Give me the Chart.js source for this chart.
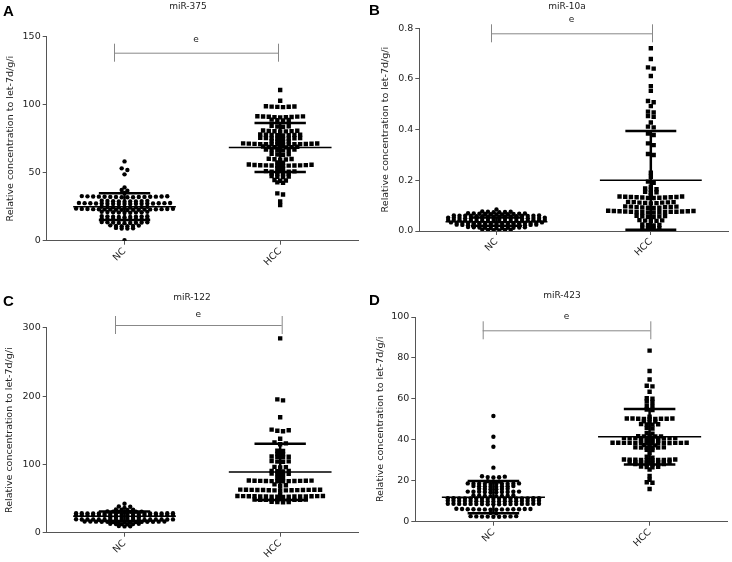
<!doctype html>
<html lang="en">
<head>
<meta charset="utf-8">
<title>Serum miRNA levels, NC vs HCC</title>
<style>
  * { margin: 0; padding: 0; }
  body { background: #fff; }
  .grid { position: relative; width: 732px; height: 562px; }
  .grid canvas { position: absolute; }
</style>
</head>
<body>
<div class="grid">
  <canvas id="chartA" width="366" height="281" style="left:0;top:0"></canvas>
  <canvas id="chartB" width="366" height="281" style="left:366px;top:0"></canvas>
  <canvas id="chartC" width="366" height="281" style="left:0;top:281px"></canvas>
  <canvas id="chartD" width="366" height="281" style="left:366px;top:281px"></canvas>
</div>
<script src="https://cdn.jsdelivr.net/npm/chart.js@4.4.0/dist/chart.umd.min.js"></script>
<script>
// categories and labels
const groups = ['NC', 'HCC'];
const titles = ['miR-375', 'miR-10a', 'miR-122', 'miR-423'];
const letters = ['A', 'B', 'C', 'D'];
const yMax = [150, 0.8, 300, 100];
const yStep = [50, 0.2, 100, 20];

// mean and SD (NC, HCC)
const meanNC = [25, 0.037, 24, 12];
const sdNC = [9.8, 0.016, 7, 7.9];
const meanHCC = [68.5, 0.2, 89, 41.5];
const sdHCC = [18, 0.195, 41, 13.5];

// miR-375
const ncA = [
  0.3,
  8.9, 9.0, 9.2, 9.4,
  10.6, 10.7, 10.8, 10.9, 11.1, 11.3,
  12.9, 13.0, 13.1, 13.2, 13.3, 13.4, 13.5, 13.6, 13.8,
  15.4, 15.5, 15.6, 15.7, 15.8, 15.9, 16.0, 16.1, 16.2,
  17.3, 17.4, 17.5, 17.6, 17.7, 17.8, 17.9, 18.0, 18.1,
  20.5, 20.6, 20.7, 20.8, 20.9, 21.0, 21.1, 21.2, 21.3,
  22.6, 22.7, 22.7, 22.8, 22.8, 22.9, 22.9, 23.0, 23.0, 23.1, 23.1, 23.2, 23.2, 23.3, 23.3, 23.4, 23.5, 23.6,
  24.3, 24.4, 24.5, 24.5, 24.6, 24.7, 24.8, 24.9, 25.0,
  26.9, 27.0, 27.0, 27.1, 27.1, 27.2, 27.2, 27.3, 27.3, 27.4, 27.4, 27.5, 27.5, 27.6, 27.6, 27.7, 27.8,
  28.7, 28.8, 28.9, 28.9, 29.0, 29.1, 29.2, 29.3, 29.4,
  31.9, 32.0, 32.0, 32.1, 32.1, 32.2, 32.2, 32.3, 32.3, 32.4, 32.4, 32.5, 32.5, 32.6, 32.7, 32.8,
  35.1, 36.8, 37.3, 39.2,
  48.8, 52.0, 53.2, 58.3
];
const hccA = [
  26.2, 28.9, 34.0, 34.8,
  42.5, 42.9,
  44.1, 44.3, 44.6,
  46.8, 47.0, 47.2, 47.5,
  48.9, 49.0, 49.2, 49.4,
  50.5, 50.6, 50.7, 50.8, 51.0, 51.2,
  53.0, 53.3,
  55.0, 55.1, 55.2, 55.3, 55.3, 55.4, 55.4, 55.5, 55.6, 55.7, 55.8, 56.0,
  57.3, 57.6,
  59.5, 59.7, 59.9, 60.1, 60.3,
  63.2, 63.4, 63.6, 63.9,
  66.4, 66.5, 66.7, 66.8, 67.0, 67.1,
  68.5, 68.6, 68.7, 68.8, 68.9, 69.1, 69.3,
  70.6, 70.7, 70.8, 70.8, 70.9, 70.9, 71.0, 71.0, 71.1, 71.2, 71.3, 71.4, 71.5, 71.6,
  72.6, 72.8, 73.0, 73.2,
  74.9, 75.0, 75.1, 75.2, 75.3, 75.4, 75.5, 75.7,
  77.4, 77.5, 77.6, 77.7, 77.8, 77.9, 78.0, 78.2,
  80.3, 80.4, 80.5, 80.6, 80.7, 80.8, 81.0,
  83.8, 84.0, 84.2, 84.4,
  88.5, 88.6, 88.8, 89.0,
  90.7, 90.8, 90.9, 91.0, 91.1, 91.2, 91.3, 91.4, 91.5,
  98.2, 98.4, 98.5, 98.6, 98.7, 98.9,
  102.9, 110.8
];

// miR-10a
const ncB = [
  0.002, 0.003, 0.004, 0.004, 0.005, 0.006,
  0.011, 0.012, 0.012, 0.013, 0.013, 0.013, 0.014, 0.014, 0.015, 0.015, 0.016,
  0.020, 0.020, 0.021, 0.021, 0.021, 0.022, 0.022, 0.022, 0.023, 0.023, 0.023, 0.024, 0.024, 0.025, 0.025,
  0.029, 0.029, 0.030, 0.030, 0.030, 0.031, 0.031, 0.031, 0.031, 0.032, 0.032, 0.032, 0.033, 0.033, 0.033, 0.034, 0.034,
  0.038, 0.038, 0.039, 0.039, 0.039, 0.040, 0.040, 0.040, 0.040, 0.041, 0.041, 0.041, 0.042, 0.042, 0.042, 0.043, 0.043, 0.043,
  0.047, 0.047, 0.048, 0.048, 0.048, 0.049, 0.049, 0.049, 0.049, 0.050, 0.050, 0.050, 0.051, 0.051, 0.051, 0.052, 0.052, 0.052,
  0.056, 0.056, 0.057, 0.057, 0.057, 0.058, 0.058, 0.058, 0.059, 0.059, 0.059, 0.060, 0.060, 0.060, 0.061, 0.061,
  0.065, 0.065, 0.066, 0.066, 0.067, 0.067, 0.068, 0.068, 0.069, 0.069, 0.070,
  0.074, 0.074, 0.075, 0.076, 0.076, 0.077,
  0.085
];
const hccB = [
  0.000,
  0.009, 0.010, 0.011, 0.013,
  0.022, 0.023, 0.024, 0.026,
  0.039, 0.040, 0.041, 0.042, 0.043,
  0.055, 0.056, 0.057, 0.058, 0.059, 0.060,
  0.073, 0.073, 0.074, 0.074, 0.075, 0.075, 0.076, 0.076, 0.076, 0.077, 0.077, 0.078, 0.078, 0.079, 0.079, 0.080,
  0.091, 0.092, 0.092, 0.093, 0.094, 0.094, 0.095, 0.096, 0.096, 0.097,
  0.109, 0.110, 0.111, 0.112, 0.112, 0.113, 0.114, 0.114, 0.115,
  0.130, 0.130, 0.131, 0.132, 0.132, 0.133, 0.133, 0.134, 0.134, 0.135, 0.136, 0.136,
  0.142,
  0.151, 0.153, 0.155,
  0.163, 0.165, 0.168,
  0.175, 0.190, 0.195, 0.214, 0.230,
  0.300, 0.304, 0.339, 0.346, 0.379, 0.385, 0.409, 0.412, 0.428, 0.451, 0.454, 0.468, 0.471,
  0.493, 0.508, 0.513, 0.553, 0.572, 0.612, 0.641, 0.646, 0.679, 0.721
];

// miR-122
const ncC = [
  9.2, 9.5, 9.9,
  12.3, 12.5, 12.6, 12.8, 13.0, 13.2,
  15.3, 15.4, 15.5, 15.6, 15.7, 15.8, 15.9, 16.0, 16.0, 16.1, 16.2, 16.2, 16.3, 16.4, 16.5,
  18.4, 18.5, 18.5, 18.6, 18.7, 18.8, 18.8, 18.9, 19.0, 19.0, 19.1, 19.2, 19.2, 19.3, 19.4, 19.4, 19.5, 19.6,
  21.4, 21.5, 21.6, 21.7, 21.8, 22.0,
  24.4, 24.5, 24.5, 24.6, 24.7, 24.8, 24.8, 24.9, 25.0, 25.0, 25.1, 25.2, 25.2, 25.3, 25.4, 25.4, 25.5, 25.6,
  27.4, 27.5, 27.5, 27.6, 27.7, 27.8, 27.8, 27.9, 28.0, 28.0, 28.1, 28.2, 28.2, 28.3, 28.4, 28.4, 28.5, 28.6,
  30.4, 30.5, 30.6, 30.7, 30.8, 30.9, 31.0,
  33.4, 33.6, 33.8, 34.0,
  36.4, 38.0, 38.4,
  42.4
];
const hccC = [
  44.6, 44.8, 45.0, 45.2,
  47.6, 47.7, 47.8, 47.9, 48.0, 48.1, 48.2, 48.3, 48.4, 48.5,
  52.5, 52.6, 52.7, 52.8, 52.9, 53.0, 53.0, 53.1, 53.2, 53.3, 53.4, 53.4, 53.5, 53.6, 53.7, 53.8,
  56.0,
  61.8, 61.9, 62.0, 62.1, 62.2, 62.3, 62.4, 62.4, 62.5, 62.6, 62.7, 62.8, 62.9, 62.9, 63.0,
  68.4, 69.5, 70.8,
  75.2, 75.3, 75.4, 75.5, 75.6, 75.7, 75.8, 75.9, 76.0, 76.1, 76.2, 76.3,
  79.6, 80.4,
  85.8, 86.0, 86.3, 86.6,
  89.6, 89.9, 90.2, 90.5,
  95.6, 96.0, 96.4,
  103.6, 104.0, 104.4, 104.8,
  110.4, 110.8, 111.2, 111.6,
  114.6, 115.2,
  119.5, 120.0,
  129.5, 130.8, 132.0,
  137.5,
  148.5, 149.2, 149.9, 150.8,
  169.0, 193.7, 195.1, 284.4
];

// miR-423
const ncD = [
  2.4, 2.4, 2.5, 2.5, 2.5, 2.6, 2.6, 2.7, 2.7,
  4.1, 4.3,
  5.9, 5.9, 6.0, 6.0, 6.0, 6.0, 6.1, 6.1, 6.1, 6.1, 6.2, 6.2, 6.2, 6.3,
  8.5, 8.5, 8.5, 8.6, 8.6, 8.6, 8.6, 8.6, 8.7, 8.7, 8.7, 8.7, 8.7, 8.8, 8.8, 8.8, 8.8,
  9.9, 9.9, 9.9, 10.0, 10.0, 10.0, 10.0, 10.0, 10.1, 10.1, 10.1, 10.1, 10.1, 10.2, 10.2, 10.2, 10.2,
  11.2, 11.2, 11.2, 11.3, 11.3, 11.3, 11.3, 11.3, 11.4, 11.4, 11.4, 11.4, 11.4, 11.5, 11.5, 11.5, 11.5,
  12.5, 12.5, 12.6, 12.6, 12.7, 12.7, 12.8, 12.8,
  14.4, 14.4, 14.5, 14.5, 14.5, 14.6, 14.6, 14.6, 14.7, 14.7,
  15.9, 15.9, 16.0, 16.0, 16.1, 16.1,
  17.1, 17.1, 17.2, 17.2, 17.3, 17.3, 17.4, 17.4,
  18.4, 18.4, 18.5, 18.5, 18.5, 18.6, 18.6, 18.6, 18.7, 18.7,
  19.5, 19.6, 19.8,
  21.6, 21.7, 21.8, 22.0, 22.2,
  26.4, 36.6, 41.5, 51.6
];
const hccD = [
  16.0, 19.0, 19.3, 20.5, 22.3, 25.5,
  26.6, 26.7, 26.8, 26.9,
  27.9, 28.0, 28.0, 28.1, 28.1, 28.2,
  29.0, 29.0, 29.1, 29.1, 29.2, 29.2, 29.3, 29.3,
  30.1, 30.1, 30.2, 30.2, 30.2, 30.3, 30.3, 30.3, 30.4, 30.4,
  31.3, 31.7,
  33.5,
  35.0, 35.1,
  36.1, 36.1, 36.2, 36.2, 36.3, 36.3,
  37.2, 37.3, 37.4,
  38.3, 38.3, 38.3, 38.4, 38.4, 38.4, 38.4, 38.5, 38.5, 38.5, 38.5, 38.6, 38.6, 38.6,
  39.4, 39.4, 39.5, 39.5,
  40.5, 40.5, 40.6, 40.6, 40.6, 40.7, 40.7, 40.7, 40.8, 40.8,
  41.6, 41.6, 41.7, 41.7, 41.8,
  43.0, 43.2,
  45.5, 45.7,
  47.4, 47.5, 47.6, 47.7,
  48.8, 48.9, 49.0,
  50.2, 50.2, 50.2, 50.3, 50.3, 50.3, 50.4, 50.4, 50.4,
  51.3,
  54.6, 54.8, 56.4, 56.6, 58.5, 58.7, 60.1, 60.3,
  63.5, 66.1, 66.4, 69.5, 73.6, 83.6
];

const ncSets = [ncA, ncB, ncC, ncD];
const hccSets = [hccA, hccB, hccC, hccD];

// layout of each panel inside its 366x281 canvas (pixels)
const frames = [
  { area: [46.7, 358, 36.7, 240.7], head: [188, 6.5], tag: 4, bracket: [114, 278, 52.7], eY: 40, yTitleX: 11 },
  { area: [53.3, 362.7, 28.3, 231], head: [201, 6.7], tag: 3, bracket: [125, 286, 33.3], eY: 20, yTitleX: 20 },
  { area: [46.7, 358, 46.7, 251.7], head: [192, 16.7], tag: 13, bracket: [115, 281.7, 44], eY: 33.3, yTitleX: 10 },
  { area: [49.3, 361.7, 36, 240.7], head: [196, 15], tag: 12, bracket: [116.7, 284.3, 49.3], eY: 36, yTitleX: 15 }
];

const DOT_GAP = 5.7;   // horizontal spacing of markers, px
const ROW_GAP = 2;     // values closer than this (px) share a row
const FONT = '"DejaVu Sans", sans-serif';

Chart.defaults.font.family = FONT;
Chart.defaults.font.size = 9;
Chart.defaults.color = '#222';

// Prism-style scatter: close values share a row, rows are centred,
// lowest value of a row in the middle and the rest alternating outwards
function swarm(values, centre, chart) {
  const { x, y } = chart.scales;
  const unitX = (x.max - x.min) / x.width;
  const rows = [];
  values.slice().sort((a, b) => a - b).forEach(v => {
    const row = rows[rows.length - 1];
    if (row && y.getPixelForValue(row[0]) - y.getPixelForValue(v) < ROW_GAP - 1e-6) row.push(v);
    else rows.push([v]);
  });
  const pts = [];
  rows.forEach(row => {
    const n = row.length;
    const slots = row.map((_, j) => j - (n - 1) / 2)
      .sort((a, b) => Math.abs(a) - Math.abs(b) || b - a);
    row.forEach((v, j) => pts.push({ x: centre + slots[j] * DOT_GAP * unitX, y: v }));
  });
  return pts;
}

function meanLines(i) {
  const out = [];
  [[1, meanNC[i]], [2, meanHCC[i]]].forEach(([c, m]) => {
    out.push({ x: c - 0.33, y: m }, { x: c + 0.33, y: m }, { x: c, y: null });
  });
  return out;
}

function sdLines(i) {
  const out = [];
  [[1, meanNC[i], sdNC[i]], [2, meanHCC[i], sdHCC[i]]].forEach(([c, m, s]) => {
    out.push({ x: c - 0.165, y: m + s }, { x: c + 0.165, y: m + s }, { x: c, y: null });
    out.push({ x: c - 0.165, y: m - s }, { x: c + 0.165, y: m - s }, { x: c, y: null });
    out.push({ x: c, y: m - s }, { x: c, y: m + s }, { x: c, y: null });
  });
  return out;
}

// panel letter, title, y title and significance bracket
function decorations(i) {
  const f = frames[i];
  return {
    id: 'decorations' + i,
    afterDraw(chart) {
      const { ctx, chartArea: { top, bottom } } = chart;
      ctx.save();
      ctx.fillStyle = '#000';
      ctx.font = 'bold 15px "Liberation Sans", sans-serif';
      ctx.textAlign = 'left';
      ctx.textBaseline = 'top';
      ctx.fillText(letters[i], 3, f.tag);

      ctx.fillStyle = '#222';
      ctx.font = '9px ' + FONT;
      ctx.textAlign = 'center';
      ctx.textBaseline = 'middle';
      ctx.fillText(titles[i], f.head[0], f.head[1]);

      const [x1, x2, by] = f.bracket;
      ctx.fillText('e', (x1 + x2) / 2, f.eY);
      ctx.strokeStyle = '#888';
      ctx.lineWidth = 1;
      ctx.beginPath();
      ctx.moveTo(x1, by + 0.5);
      ctx.lineTo(x2, by + 0.5);
      ctx.moveTo(x1 + 0.5, by - 9);
      ctx.lineTo(x1 + 0.5, by + 9);
      ctx.moveTo(x2 + 0.5, by - 9);
      ctx.lineTo(x2 + 0.5, by + 9);
      ctx.stroke();

      ctx.font = '9.5px ' + FONT;
      ctx.translate(f.yTitleX, (top + bottom) / 2);
      ctx.rotate(-Math.PI / 2);
      ctx.fillText('Relative concentration to let-7d/g/i', 0, 0);
      ctx.restore();
    }
  };
}

function buildPanel(i) {
  const f = frames[i];
  const [left, right, top, bottom] = f.area;
  const chart = new Chart(document.getElementById('chart' + letters[i]), {
    type: 'scatter',
    data: {
      datasets: [
        { type: 'line', data: meanLines(i), borderColor: '#000', borderWidth: 1.5,
          pointRadius: 0, spanGaps: false, order: 0 },
        { type: 'line', data: sdLines(i), borderColor: '#000', borderWidth: 2.5,
          pointRadius: 0, spanGaps: false, order: 0 },
        { label: groups[0], data: [], pointStyle: 'circle', pointRadius: 2.2,
          backgroundColor: '#000', borderWidth: 0, order: 1 },
        { label: groups[1], data: [], pointStyle: 'rect', pointRadius: 3.1,
          backgroundColor: '#000', borderWidth: 0, order: 1 }
      ]
    },
    options: {
      responsive: false,
      animation: false,
      events: [],
      layout: { padding: { left: 0, top: top, right: 366 - right, bottom: 0 } },
      scales: {
        x: {
          type: 'linear', min: 0.5, max: 2.5,
          afterBuildTicks: s => { s.ticks = [{ value: 1 }, { value: 2 }]; },
          afterFit: s => { s.height = 281 - bottom; },
          grid: { drawOnChartArea: false, tickLength: 4, color: '#555' },
          border: { color: '#555' },
          ticks: { minRotation: 45, maxRotation: 45, padding: 1, font: { size: 9.5 },
                   callback: v => groups[v - 1] }
        },
        y: {
          min: 0, max: yMax[i],
          afterFit: s => { s.width = left; },
          grid: { drawOnChartArea: false, tickLength: 4, color: '#555' },
          border: { color: '#555' },
          ticks: { stepSize: yStep[i], padding: 2, font: { size: 9.5 },
                   callback: v => i === 1 ? v.toFixed(1) : v }
        }
      },
      plugins: { legend: { display: false }, tooltip: { enabled: false } }
    },
    plugins: [decorations(i)]
  });
  chart.data.datasets[2].data = swarm(ncSets[i], 1, chart);
  chart.data.datasets[3].data = swarm(hccSets[i], 2, chart);
  chart.update('none');
}

[0, 1, 2, 3].forEach(buildPanel);
</script>
</body>
</html>
